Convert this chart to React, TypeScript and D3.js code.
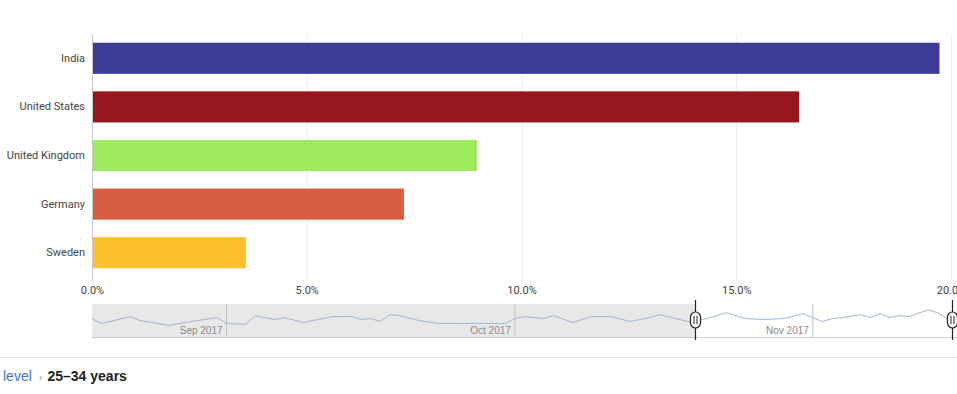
import React from "react";
import { scaleLinear, scaleBand, scaleTime, line, curveLinear } from "d3";

const countries = ["India", "United States", "United Kingdom", "Germany", "Sweden"];
const shares = [19.72, 16.45, 8.95, 7.25, 3.57];
const barColors = ["#3e3d96", "#97181c", "#9deb5d", "#d85c3f", "#fcc12b"];
const xTicks = [0, 5, 10, 15, 20];

// navigator overview series (relative traffic)
const navDates = [
  "2017-08-18", "2017-08-19", "2017-08-22", "2017-08-23", "2017-08-26", "2017-08-29",
  "2017-08-31", "2017-09-01", "2017-09-03", "2017-09-04", "2017-09-06", "2017-09-07",
  "2017-09-09", "2017-09-12", "2017-09-14", "2017-09-15", "2017-09-16", "2017-09-17",
  "2017-09-18", "2017-09-19", "2017-09-21", "2017-09-23", "2017-09-25", "2017-09-28",
  "2017-09-30", "2017-10-01", "2017-10-02", "2017-10-04", "2017-10-05", "2017-10-07",
  "2017-10-09", "2017-10-11", "2017-10-13", "2017-10-15", "2017-10-16", "2017-10-19",
  "2017-10-21", "2017-10-23", "2017-10-25", "2017-10-27", "2017-10-29", "2017-10-31",
  "2017-11-02", "2017-11-03", "2017-11-04", "2017-11-06", "2017-11-07", "2017-11-08",
  "2017-11-09", "2017-11-10", "2017-11-11", "2017-11-13", "2017-11-14", "2017-11-15",
];
const navValues = [
  19, 14, 21, 17, 12, 17,
  20, 14, 13, 22, 18, 20,
  15, 21, 21, 18, 19, 16,
  23, 22, 17, 14, 14, 14,
  14, 19, 21, 19, 22, 15,
  21, 21, 16, 20, 23, 16,
  19, 25, 19, 18, 19, 24,
  16, 19, 20, 23, 20, 24,
  20, 22, 21, 28, 25, 19,
];
const monthTicks = ["2017-09-01", "2017-10-01", "2017-11-01"];
const monthLabels = ["Sep 2017", "Oct 2017", "Nov 2017"];
const rangeStart = "2017-08-18";
const rangeEnd = "2017-11-16";
const selection = ["2017-10-19T18:00:00Z", "2017-11-15T12:00:00Z"];

const W = 957;
const H = 394;
const font = "Roboto, 'Liberation Sans', Arial, sans-serif";

export default function App() {
  const x = scaleLinear().domain([0, 20]).range([92.5, 951.5]);
  const y = scaleBand().domain(countries).range([34, 277]).paddingInner(0.36).paddingOuter(0.18);

  const nav = { top: 304, bottom: 337, left: 92, right: 957 };
  const t = scaleTime()
    .domain([new Date(rangeStart), new Date(rangeEnd)])
    .range([nav.left, nav.right]);
  const ny = scaleLinear().domain([0, 34]).range([nav.bottom, nav.top]);
  const pts = navDates.map((d, i) => [t(new Date(d)), ny(navValues[i])] as [number, number]);
  const path = line().curve(curveLinear)(pts) || "";
  const s0 = Math.round(t(new Date(selection[0]))) + 0.5;
  const s1 = Math.round(t(new Date(selection[1]))) + 0.5;

  const handle = (hx: number, key: string) => (
    <g key={key} transform={`translate(${hx},0)`}>
      <line x1={0} x2={0} y1={nav.top - 4} y2={nav.bottom + 3} stroke="#222" strokeWidth={1.2} />
      <rect x={-5} y={312} width={10} height={16} rx={5} ry={5} fill="#fff" stroke="#222" strokeWidth={1.2} />
      <line x1={-1.5} x2={-1.5} y1={316} y2={324} stroke="#222" strokeWidth={1} />
      <line x1={1.5} x2={1.5} y1={316} y2={324} stroke="#222" strokeWidth={1} />
    </g>
  );

  return (
    <svg
      width={W}
      height={H}
      style={{ position: "absolute", left: 0, top: 0, background: "#fff" }}
      fontFamily={font}
    >
      {/* grid */}
      {xTicks.map((v) => (
        <line
          key={"g" + v}
          x1={x(v)}
          x2={x(v)}
          y1={34}
          y2={281}
          stroke={v === 0 ? "#c8c8c8" : "#ececec"}
          strokeWidth={1}
        />
      ))}

      {/* bars */}
      {countries.map((c, i) => (
        <g key={c}>
          <rect
            x={x(0) + 0.5}
            y={y(c)}
            width={x(shares[i]) - x(0) - 0.5}
            height={y.bandwidth()}
            fill={barColors[i]}
          />
          <text
            x={85}
            y={(y(c) || 0) + y.bandwidth() / 2}
            textAnchor="end"
            dominantBaseline="central"
            fontSize={11}
            fill="#444"
          >
            {c}
          </text>
        </g>
      ))}

      {/* x tick labels */}
      {xTicks.map((v) => (
        <text key={"t" + v} x={x(v)} y={294} textAnchor="middle" fontSize={11} fill="#444">
          {v.toFixed(1) + "%"}
        </text>
      ))}

      {/* navigator */}
      <rect x={nav.left} y={nav.top} width={s0 - nav.left} height={nav.bottom - nav.top} fill="#e8e8e8" />
      {monthTicks.map((m, i) => (
        <g key={m}>
          <line
            x1={t(new Date(m))}
            x2={t(new Date(m))}
            y1={nav.top}
            y2={nav.bottom}
            stroke="#c4c4c4"
            strokeWidth={1}
          />
          <text
            x={t(new Date(m)) - 4}
            y={334}
            textAnchor="end"
            fontSize={10}
            fill="#8a8a8a"
            fontFamily="'Liberation Sans', Arial, sans-serif"
          >
            {monthLabels[i]}
          </text>
        </g>
      ))}
      <path d={path} fill="none" stroke="#a3b4d3" strokeWidth={1} />
      <line x1={nav.left} x2={nav.right} y1={nav.bottom + 0.5} y2={nav.bottom + 0.5} stroke="#cfcfcf" />
      {handle(s0, "h0")}
      {handle(s1, "h1")}

      {/* breadcrumb */}
      <line x1={0} x2={W} y1={357.5} y2={357.5} stroke="#e0e0e0" />
      <text x={3} y={381} fontSize={14} fontFamily="'Liberation Sans', Arial, sans-serif">
        <tspan fill="#3a78c3">level</tspan>
        <tspan dx={7} fill="#999" fontSize={11}>›</tspan>
        <tspan dx={5} fill="#222" fontWeight="bold">25–34 years</tspan>
      </text>
    </svg>
  );
}
